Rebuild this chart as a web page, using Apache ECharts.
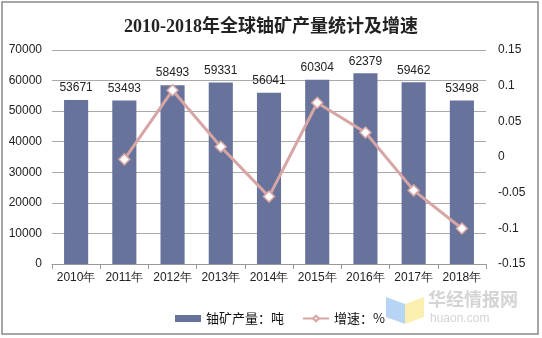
<!DOCTYPE html>
<html><head><meta charset="utf-8">
<script src="https://cdn.jsdelivr.net/npm/echarts@6/dist/echarts.min.js"></script>
<style>html,body{margin:0;padding:0;background:#fff}#c{width:542px;height:338px}</style>
</head><body><div id="c"></div>
<script>
var categories = ['2010年','2011年','2012年','2013年','2014年','2015年','2016年','2017年','2018年'];
var production = [53671, 53493, 58493, 59331, 56041, 60304, 62379, 59462, 53498];
var growth = [null, -0.0033, 0.0935, 0.0143, -0.0555, 0.0761, 0.0344, -0.0468, -0.1003];
var titleText = '2010-2018年全球铀矿产量统计及增速';
var seriesNames = ['铀矿产量：吨', '增速：%'];

var chart = echarts.init(document.getElementById('c'));
var lab = {color:'#222', fontSize:12, fontFamily:'Liberation Sans, Arial, sans-serif'};
chart.setOption({
  animation:false,
  backgroundColor:'#fff',
  title:{text:titleText, left:'center', top:13,
    textStyle:{fontSize:18, fontWeight:'bold', color:'#222', fontFamily:"'Liberation Serif','Noto Sans CJK SC',serif"}},
  legend:{left:170, top:307, itemWidth:26, itemHeight:7, itemGap:18,
    textStyle:{fontSize:13, color:'#111', fontFamily:"'Noto Sans CJK SC',sans-serif"},
    data:[{name:seriesNames[0], icon:'rect'}, {name:seriesNames[1]}]},
  grid:{left:52, right:56, top:50, bottom:74},
  xAxis:{type:'category', data:categories,
    axisLine:{lineStyle:{color:'#999'}},
    axisTick:{show:true, alignWithLabel:false, interval:0, length:5, lineStyle:{color:'#999'}},
    axisLabel:Object.assign({margin:8, interval:0}, lab)},
  yAxis:[
    {type:'value', min:0, max:70000, interval:10000,
      axisLine:{show:false}, axisTick:{show:false},
      axisLabel:Object.assign({margin:10, formatter:function(v){return String(v);}}, lab),
      splitLine:{lineStyle:{color:'#aaa'}}},
    {type:'value', min:-0.15, max:0.15, interval:0.05,
      axisLine:{show:false}, axisTick:{show:false},
      axisLabel:Object.assign({margin:12, formatter:function(v){return String(+v.toFixed(2));}}, lab),
      splitLine:{show:false}}
  ],
  series:[
    {name:seriesNames[0], type:'bar', data:production, barWidth:'50%',
      itemStyle:{color:'#67739b'},
      label:{show:true, position:'top', distance:6, color:'#222', fontSize:12, fontFamily:'Liberation Sans, Arial, sans-serif'}},
    {name:seriesNames[1], type:'line', yAxisIndex:1, data:growth,
      lineStyle:{color:'#d6a5a4', width:3},
      itemStyle:{color:'#fff', borderColor:'#d6a5a4', borderWidth:1.5},
      symbol:'diamond', symbolSize:11, showSymbol:true, connectNulls:false}
  ],
  graphic:[
    {type:'rect', shape:{x:2, y:2, width:536, height:332}, style:{fill:'none', stroke:'#888', lineWidth:1.5}, silent:true},
    {type:'polygon', shape:{points:[[386,297],[405,304],[405,324],[386,317]]}, style:{fill:'#b8d4f5'}, silent:true},
    {type:'polygon', shape:{points:[[405,304],[424,297],[424,317],[405,324]]}, style:{fill:'#fbefb0'}, silent:true},
    {type:'text', left:428, top:290, style:{text:'华经情报网', fontSize:18, fontWeight:'bold', fill:'#d4d4d4', fontFamily:"'Noto Sans CJK SC',sans-serif"}, silent:true},
    {type:'text', left:430, top:313, style:{text:'huaon.com', fontSize:12, fill:'#d4d4d4', fontFamily:'Liberation Sans, sans-serif'}, silent:true}
  ]
});
</script></body></html>
